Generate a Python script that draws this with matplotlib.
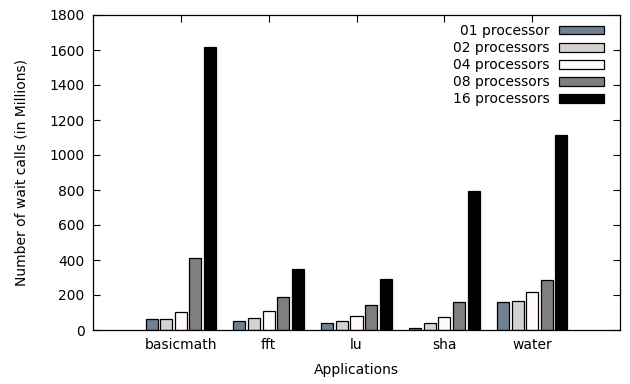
import matplotlib
matplotlib.use("Agg")
import matplotlib.pyplot as plt
import numpy as np

apps = ["basicmath", "fft", "lu", "sha", "water"]
series = ["01 processor", "02 processors", "04 processors", "08 processors", "16 processors"]
p01 = [61, 51, 40, 13, 160]
p02 = [62, 70, 51, 38, 164]
p04 = [105, 110, 78, 76, 217]
p08 = [410, 189, 145, 158, 284]
p16 = [1615, 347, 291, 797, 1116]
yticks = [0, 200, 400, 600, 800, 1000, 1200, 1400, 1600, 1800]

colors = ["#708090", "#d3d3d3", "#fff8ff", "#7f7f7f", "#000000"]

plt.rcParams["font.family"] = "DejaVu Sans"
plt.rcParams["font.size"] = 10

fig = plt.figure(figsize=(6.3, 3.84), dpi=100)
ax = fig.add_axes([93/630, 1 - 330/384, 527/630, 315/384])

x = np.arange(len(apps))
slot = 1.0 / 6
width = slot * 0.82
for j, vals in enumerate([p01, p02, p04, p08, p16]):
    ax.bar(x + (j - 2) * slot, vals, width, color=colors[j], edgecolor="black",
           linewidth=0.9, label=series[j], zorder=2)

ax.set_xlim(-1, 5)
ax.set_ylim(0, 1800)
ax.set_yticks(yticks)
ax.set_xticks(x)
ax.set_xticklabels(apps)
ax.tick_params(direction="in", top=True, right=True, length=5, width=0.8,
               colors="black", pad=6)
ax.tick_params(axis="x", pad=6)
for s in ax.spines.values():
    s.set_linewidth(0.9)

ax.set_xlabel("Applications", labelpad=8)
ax.set_ylabel("Number of wait calls (in Millions)", labelpad=15)

leg = ax.legend(loc="upper right", bbox_to_anchor=(0.985, 0.998), frameon=False,
                markerfirst=False, handlelength=3.2, handleheight=0.6,
                labelspacing=0.22, handletextpad=0.7, borderaxespad=0.2)
for t in leg.get_texts():
    t.set_ha("right")

fig.savefig("out.png", dpi=100)
